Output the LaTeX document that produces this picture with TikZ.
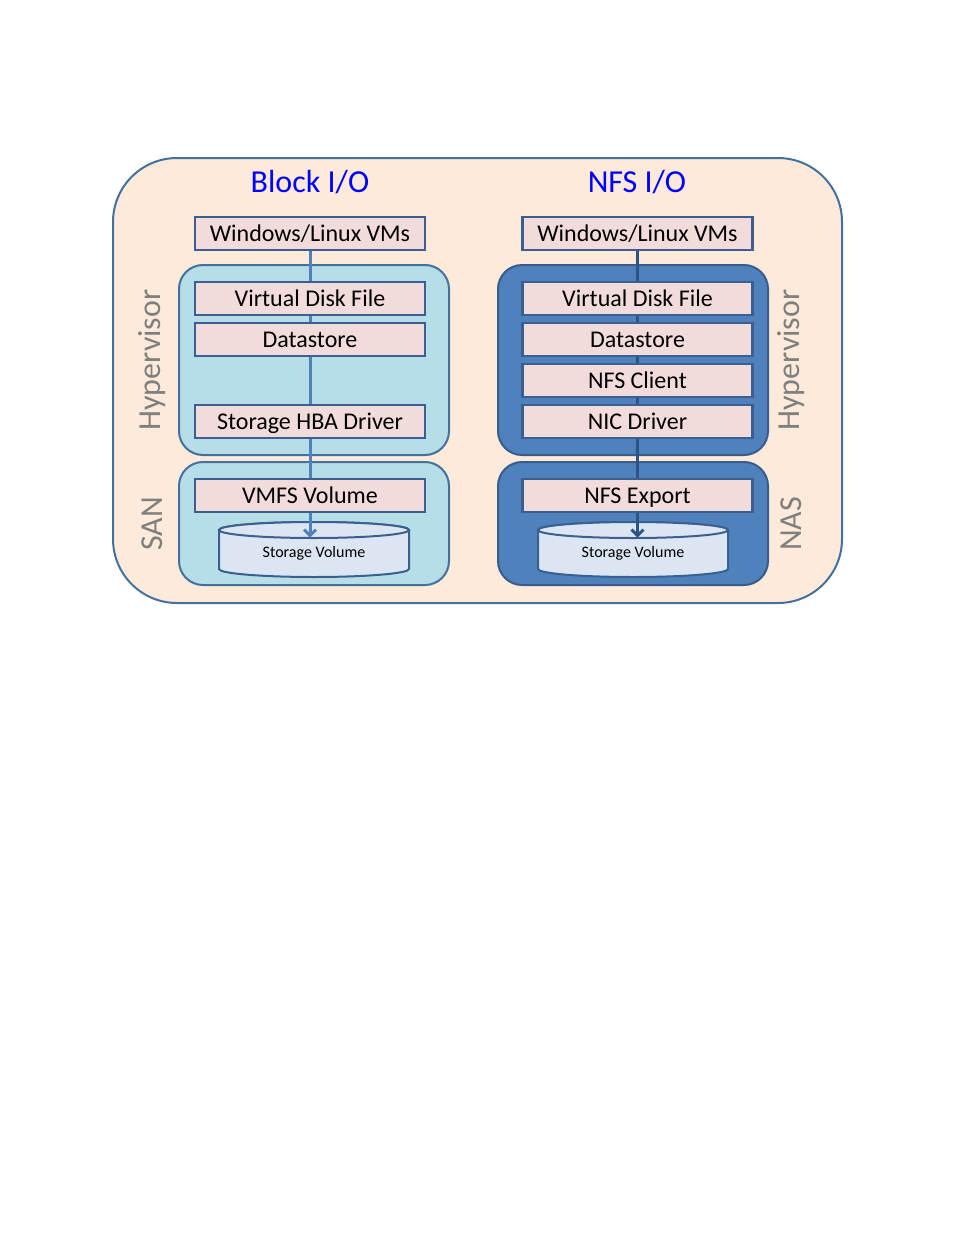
\documentclass[tikz,border=0pt]{standalone}
\usepackage{fontspec}
\setmainfont{Carlito}
\usetikzlibrary{arrows.meta,calc}

\definecolor{framefill}{HTML}{FDEADA}
\definecolor{frameline}{HTML}{41719C}
\definecolor{sanfill}{HTML}{B7DEE8}
\definecolor{nasfill}{HTML}{4F81BD}
\definecolor{nasline}{HTML}{385D8A}
\definecolor{boxfill}{HTML}{F2DCDB}
\definecolor{boxline}{HTML}{3C5F91}
\definecolor{volfill}{HTML}{DCE6F2}
\definecolor{linkleft}{HTML}{4F81BD}
\definecolor{linkright}{HTML}{2C5587}
\definecolor{sidegray}{HTML}{7F7F7F}

\tikzset{
  framebox/.style={draw=frameline, fill=framefill, line width=1.5pt, rounded corners=48pt},
  sanbox/.style={draw=frameline, fill=sanfill, line width=1.5pt, rounded corners=18pt},
  nasbox/.style={draw=nasline, fill=nasfill, line width=1.5pt, rounded corners=18pt},
  layerbox/.style={draw=boxline, fill=boxfill, line width=2pt, minimum width=172.5pt,
    minimum height=24.75pt, inner sep=0pt, text height=15.5pt, text depth=3pt,
    font=\fontsize{18}{21}\selectfont},
  volnode/.style={minimum width=142.5pt, minimum height=41.25pt, inner sep=0pt,
    text height=12pt, text depth=0pt, font=\fontsize{12}{14}\selectfont},
  volshape/.style={draw=boxline, fill=volfill, line width=1.5pt},
  iotitle/.style={text=blue, font=\fontsize{24}{28}\selectfont},
  sidelabel/.style={text=sidegray, rotate=90, font=\fontsize{24}{28}\selectfont},
  linkL/.style={draw=linkleft, line width=2.25pt},
  linkR/.style={draw=linkright, line width=2.25pt},
  volarrow/.style={-{Straight Barb[length=4.5pt,width=9pt]}}
}

\begin{document}
\begin{tikzpicture}[x=0.75pt,y=-0.75pt]
  \useasboundingbox (0,0) rectangle (954,1235);

  % Outer frame
  \draw[framebox] (113,158) rectangle (842,603);

  % Titles
  \node[iotitle] (titleL) at (310,182) {Block I/O};
  \node[iotitle] (titleR) at (637,182) {NFS I/O};

  % Side labels
  \node[sidelabel] (hypL) at (152,360) {Hypervisor};
  \node[sidelabel] (san) at (152,524) {SAN};
  \node[sidelabel] (hypR) at (791,360) {Hypervisor};
  \node[sidelabel] (nas) at (791,524) {NAS};

  % Containers
  \draw[sanbox] (179,265) rectangle (449,455);
  \draw[sanbox] (179,462) rectangle (449,585);
  \draw[nasbox] (498,265) rectangle (768,455);
  \draw[nasbox] (498,462) rectangle (768,585);

  % Block I/O stack
  \node[layerbox] (vmsL) at (310,233.5) {Windows/Linux VMs};
  \node[layerbox] (vdfL) at (310,298.5) {Virtual Disk File};
  \node[layerbox] (dsL) at (310,339.5) {Datastore};
  \node[layerbox] (hbaL) at (310,421.5) {Storage HBA Driver};
  \node[layerbox] (vmfsL) at (310,495.5) {VMFS Volume};

  % NFS I/O stack
  \node[layerbox] (vmsR) at (637.5,233.5) {Windows/Linux VMs};
  \node[layerbox] (vdfR) at (637.5,298.5) {Virtual Disk File};
  \node[layerbox] (dsR) at (637.5,339.5) {Datastore};
  \node[layerbox] (nfscR) at (637.5,380.5) {NFS Client};
  \node[layerbox] (nicR) at (637.5,421.5) {NIC Driver};
  \node[layerbox] (expR) at (637.5,495.5) {NFS Export};

  % Links between layers
  \foreach \a/\b in {vmsL/vdfL, vdfL/dsL, dsL/hbaL, hbaL/vmfsL}
    \draw[linkL] (\a.south) -- (\b.north);
  \foreach \a/\b in {vmsR/vdfR, vdfR/dsR, dsR/nfscR, nfscR/nicR, nicR/expR}
    \draw[linkR] (\a.south) -- (\b.north);

  % Storage volumes (cylinders)
  \foreach \v/\x in {volL/314, volR/633} {
    \path[volshape] (\x-95,530) -- (\x-95,569)
      arc[start angle=180, end angle=360, x radius=71.25pt, y radius=6pt]
      -- (\x+95,530)
      arc[start angle=0, end angle=180, x radius=71.25pt, y radius=6pt] -- cycle;
    \draw[volshape] (\x,530) ellipse[x radius=71.25pt, y radius=6pt];
    \node[volnode] (\v) at (\x,549.5) {Storage Volume};
    \coordinate (\v tip) at ($(\v.north)+(0,16)$);
  }

  % Arrows into the volumes
  \draw[linkL, volarrow] (vmfsL.south) -- (vmfsL.south |- volLtip);
  \draw[linkR, volarrow] (expR.south) -- (expR.south |- volRtip);
\end{tikzpicture}
\end{document}
